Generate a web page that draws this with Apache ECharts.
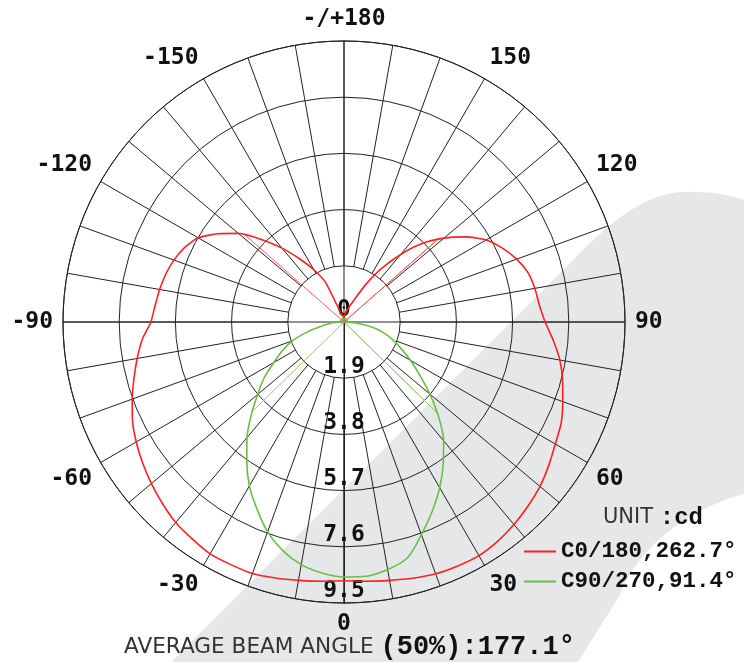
<!DOCTYPE html>
<html>
<head>
<meta charset="utf-8">
<script src="https://cdn.jsdelivr.net/npm/echarts@6/dist/echarts.min.js"></script>
<style>
html,body{margin:0;padding:0;background:#fff;}
#chart{width:744px;height:662px;}
</style>
</head>
<body>
<div id="chart"></div>
<script>
// ---- data ----
var anglesDeg = [-180,-175,-170,-165,-160,-155,-150,-145,-140,-135,-130,-125,-120,-115,-110,-105,-100,-95,-90,-85,-80,-75,-70,-65,-60,-55,-50,-45,-40,-35,-30,-25,-20,-15,-10,-5,
  0,5,10,15,20,25,30,35,40,45,50,55,60,65,70,75,80,85,90,95,100,105,110,115,120,125,130,135,140,145,150,155,160,165,170,175,180];
var c0Values = [0.1,0.15,0.2,0.25,0.35,1.48,2.04,2.6,3.26,3.95,4.66,5.2,5.69,5.95,6.12,6.24,6.33,6.41,6.53,6.85,7.1,7.35,7.62,7.89,8.11,8.31,8.5,8.68,8.85,8.95,9.05,9.05,9.05,8.96,8.87,8.8,
  8.75,8.8,8.87,8.97,9.06,9.1,9.12,9.05,8.94,8.8,8.65,8.45,8.25,8.1,7.87,7.65,7.41,7.1,6.8,6.63,6.55,6.44,6.21,5.91,5.55,5.02,4.41,3.76,2.98,2.2,1.45,0.85,0.58,0.42,0.3,0.2,0.1];
var c90Values = [0.12,0.12,0.12,0.12,0.12,0.12,0.12,0.12,0.12,0.12,0.12,0.12,0.12,0.12,0.12,0.12,0.12,0.12,0.15,0.45,0.74,1.26,1.86,2.3,2.74,3.3,3.81,4.43,5.1,5.73,6.4,6.97,7.55,8.0,8.33,8.52,
  8.62,8.63,8.5,8.26,7.65,7.06,6.47,5.85,5.24,4.52,3.79,3.12,2.6,2.13,1.75,1.38,0.93,0.4,0.12,0.12,0.12,0.12,0.12,0.12,0.12,0.12,0.12,0.12,0.12,0.12,0.12,0.12,0.12,0.12,0.12,0.12,0.12];
// half-intensity (50%) direction markers
var c0HalfAngles = [-131.35, 131.35];
var c0HalfValues = [4.5, 4.25];
var c90HalfAngles = [-45.7, 45.7];
var c90HalfValues = [4.34, 4.4];

var radiusTickLabels = ['0','1.9','3.8','5.7','7.6','9.5'];
var angleLabelValues = [0,30,60,90,120,150,180,210,240,270,300,330];
var angleLabelTexts = ['0','30','60','90','120','150','-/+180','-150','-120','-90','-60','-30'];

var seriesNames = ['C0/180,262.7°','C90/270,91.4°'];
var unitLabel = 'UNIT ';
var unitValue = ':cd';
var beamLabel = 'AVERAGE BEAM ANGLE ';
var beamValue = '(50%):177.1°';

var RED = '#ff1f1f';
var GREEN = '#6cbd45';
var GRID = '#222';

function toAngle(a){ return a < 0 ? a + 360 : a; }
function curve(vals){ return anglesDeg.map(function(a,i){ return [vals[i], toAngle(a)]; }); }
function rayData(angles, vals){
  var out = [];
  for (var i=0;i<angles.length;i++){
    out.push([vals[i], toAngle(angles[i])]);
    out.push([0, toAngle(angles[i])]);
  }
  return out;
}

// decorative background swoosh (sampled cubic segments)
function bez(p0,p1,p2,p3,n,out){
  for (var k=1;k<=n;k++){
    var t=k/n, u=1-t;
    out.push([u*u*u*p0[0]+3*u*u*t*p1[0]+3*u*t*t*p2[0]+t*t*t*p3[0],
              u*u*u*p0[1]+3*u*u*t*p1[1]+3*u*t*t*p2[1]+t*t*t*p3[1]]);
  }
}
var swoosh = [[171,662],[575,258]];
bez([575,258],[610,222],[645,193],[683,192],16,swoosh);
bez([683,192],[710,191],[730,195],[744,200],8,swoosh);
swoosh.push([744,494]);
bez([744,494],[700,505],[640,540],[620,595],16,swoosh);
swoosh.push([578,662]);

var monoBold = {fontFamily:'DejaVu Sans Mono', fontWeight:'bold', fontSize:23, color:'#111'};

var chart = echarts.init(document.getElementById('chart'), null, {renderer:'canvas'});
chart.setOption({
  backgroundColor:'#fff',
  animation:false,
  graphic:{elements:[
    {type:'polygon', z:-100, silent:true, shape:{points:swoosh}, style:{fill:'#e6e7e9'}},
    {type:'text', z:10, x:603, y:518,
     style:{text:'{a|'+unitLabel+'}{b|'+unitValue+'}', verticalAlign:'middle',
       rich:{a:{fontFamily:'DejaVu Sans', fontSize:21, fill:'#333', color:'#333'},
             b:{fontFamily:'Liberation Mono', fontWeight:'bold', fontSize:24, fill:'#111', color:'#111'}}}},
    {type:'text', z:10, x:124, y:647,
     style:{text:'{a|'+beamLabel+'}{b|'+beamValue+'}', verticalAlign:'middle',
       rich:{a:{fontFamily:'DejaVu Sans', fontSize:21.6, fill:'#333', color:'#333'},
             b:{fontFamily:'Liberation Mono', fontWeight:'bold', fontSize:27, fill:'#111', color:'#111'}}}}
  ]},
  legend:{
    orient:'vertical', left:519, top:535, itemWidth:32, itemHeight:2, itemGap:7,
    data:[{name:seriesNames[0], icon:'rect'},{name:seriesNames[1], icon:'rect'}],
    textStyle:{fontFamily:'Liberation Mono', fontWeight:'bold', fontSize:22.5, color:'#111', lineHeight:22},
    selectedMode:false
  },
  polar:[
    {center:[344,322], radius:281},
    {center:[344,322], radius:[56.2,281]}
  ],
  angleAxis:[
    {polarIndex:0, type:'value', min:0, max:360, interval:90, startAngle:270, clockwise:false,
     axisLine:{show:true, lineStyle:{color:GRID, width:1}}, axisTick:{show:false}, axisLabel:{show:false},
     splitLine:{show:true, lineStyle:{color:GRID, width:1}}},
    {polarIndex:1, type:'value', min:0, max:360, interval:10, startAngle:270, clockwise:false,
     axisLine:{show:false}, axisTick:{show:false},
     axisLabel:Object.assign({show:true, margin:10, formatter:function(v){
        var i = angleLabelValues.indexOf(Math.round(v));
        return i >= 0 ? angleLabelTexts[i] : '';
     }}, monoBold),
     splitLine:{show:true, lineStyle:{color:GRID, width:1}}}
  ],
  radiusAxis:[
    {polarIndex:0, type:'value', min:0, max:9.5, interval:1.9,
     axisLine:{show:true, lineStyle:{color:GRID, width:1}}, axisTick:{show:false},
     axisLabel:Object.assign({show:true, showMinLabel:true, margin:0, align:'center', verticalAlign:'bottom', rotate:0,
       formatter:function(v){ var i = Math.round(v/1.9); return radiusTickLabels[i] || ''; }}, monoBold),
     splitLine:{show:true, lineStyle:{color:GRID, width:1}}},
    {polarIndex:1, type:'value', min:0, max:1, show:false}
  ],
  series:[
    {name:'c0-half', type:'line', coordinateSystem:'polar', polarIndex:0, data:rayData(c0HalfAngles, c0HalfValues),
     symbol:'none', lineStyle:{color:'#ff5a5a', width:1}, z:3, silent:true},
    {name:'c90-half', type:'line', coordinateSystem:'polar', polarIndex:0, data:rayData(c90HalfAngles, c90HalfValues),
     symbol:'none', lineStyle:{color:'#8fd06a', width:1}, z:3, silent:true},
    {name:seriesNames[0], type:'line', coordinateSystem:'polar', polarIndex:0, data:curve(c0Values),
     symbol:'none', smooth:0.2, itemStyle:{color:RED}, lineStyle:{color:RED, width:1.6}, z:4},
    {name:seriesNames[1], type:'line', coordinateSystem:'polar', polarIndex:0, data:curve(c90Values),
     symbol:'none', smooth:0.3, itemStyle:{color:GREEN}, lineStyle:{color:GREEN, width:1.6}, z:4}
  ]
});
</script>
</body>
</html>
